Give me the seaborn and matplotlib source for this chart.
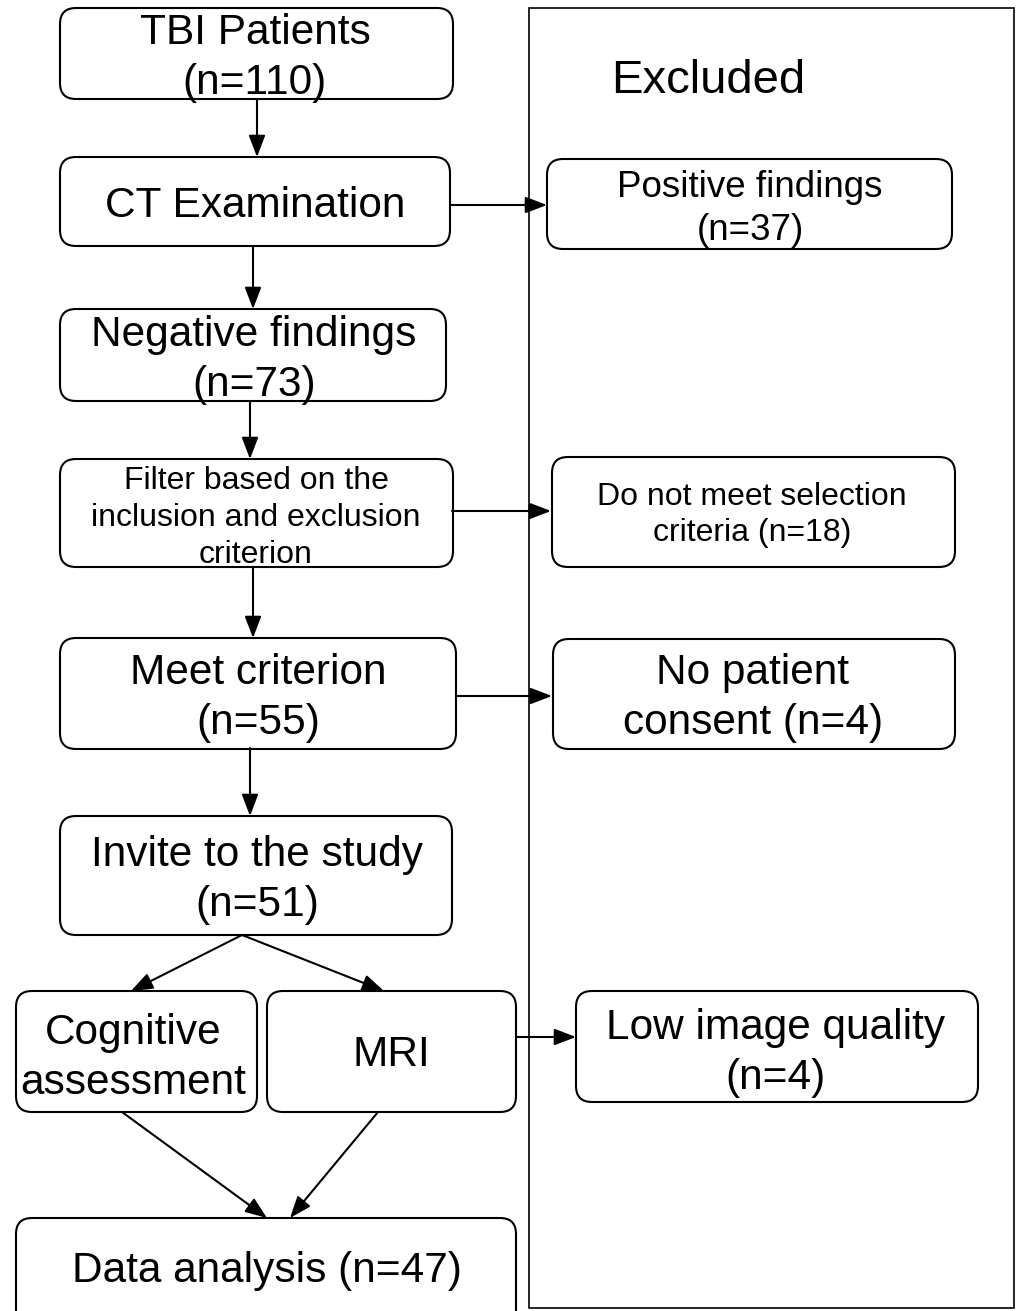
import matplotlib
matplotlib.use("Agg")
import matplotlib.pyplot as plt
import seaborn as sns
from matplotlib.patches import FancyBboxPatch, Rectangle, FancyArrowPatch

sns.set_style("white")
plt.rcParams['font.family'] = ['Liberation Sans', 'DejaVu Sans']
plt.rcParams['text.color'] = 'black'

# flowchart content
main_labels = ["TBI Patients\n(n=110)", "CT Examination", "Negative findings\n(n=73)",
               "Filter based on the\ninclusion and exclusion\ncriterion",
               "Meet criterion\n(n=55)", "Invite to the study\n(n=51)",
               "Cognitive\nassessment", "MRI", "Data analysis (n=47)"]
excluded_title = "Excluded"
excluded_labels = ["Positive findings\n(n=37)", "Do not meet selection\ncriteria (n=18)",
                   "No patient\nconsent (n=4)", "Low image quality\n(n=4)"]

# layout (pixel coordinates, y down)
main_boxes = [(60, 8, 453, 99), (60, 157, 450, 246), (60, 309, 446, 401),
              (60, 459, 453, 567), (60, 638, 456, 749), (60, 816, 452, 935),
              (16, 991, 257, 1112), (267, 991, 516, 1112), (16, 1218, 516, 1345)]
main_text_xy = [(255, 58), (255, 206), (254, 360), (256, 518), (258, 698),
                (257, 880), (133, 1058), (391, 1055), (267, 1271)]
main_sizes = [30.5, 30.5, 30.5, 23, 30.5, 30.5, 30.5, 30.5, 30.5]

exc_boxes = [(547, 159, 952, 249), (552, 457, 955, 567), (553, 639, 955, 749),
             (576, 991, 978, 1102)]
exc_text_xy = [(750, 209), (752, 515), (753, 698), (776, 1053)]
exc_sizes = [26.5, 23, 30.5, 30.5]

arrows = [(257, 99, 257, 157), (253, 246, 253, 309), (250, 401, 250, 459),
          (253, 567, 253, 638), (250, 748, 250, 816), (242, 935, 131, 991),
          (242, 935, 384, 991), (122, 1112, 267, 1218), (378, 1112, 290, 1218),
          (450, 205, 547, 205), (452, 511, 551, 511), (456, 696, 552, 696),
          (516, 1037, 576, 1037)]

W, H = 1018, 1311
fig = plt.figure(figsize=(W / 100, H / 100), dpi=100)
ax = fig.add_axes([0, 0, 1, 1])
ax.set_xlim(0, W)
ax.set_ylim(H, 0)
ax.axis("off")

# big "Excluded" frame
ax.add_patch(Rectangle((529, 8), 1014 - 529, 1308 - 8, fill=False, lw=1.2, ec="black"))
ax.text(708, 81, excluded_title, ha="center", va="center", fontsize=34, color="black")


def draw_box(b, label, xy, size):
    x0, y0, x1, y1 = b
    ax.add_patch(FancyBboxPatch((x0, y0), x1 - x0, y1 - y0,
                                boxstyle="round,pad=0,rounding_size=16",
                                fc="white", ec="black", lw=1.5))
    ax.text(xy[0], xy[1], label, ha="center", va="center", fontsize=size,
            linespacing=1.3, color="black", zorder=5)


for b, lab, xy, s in zip(main_boxes, main_labels, main_text_xy, main_sizes):
    draw_box(b, lab, xy, s)
for b, lab, xy, s in zip(exc_boxes, excluded_labels, exc_text_xy, exc_sizes):
    draw_box(b, lab, xy, s)

for x0, y0, x1, y1 in arrows:
    ax.add_patch(FancyArrowPatch((x0, y0), (x1, y1),
                                 arrowstyle="-|>,head_length=1.1,head_width=0.42",
                                 mutation_scale=12, lw=1.5, color="black",
                                 shrinkA=0, shrinkB=0, zorder=6))

fig.savefig("out.png", dpi=100)
